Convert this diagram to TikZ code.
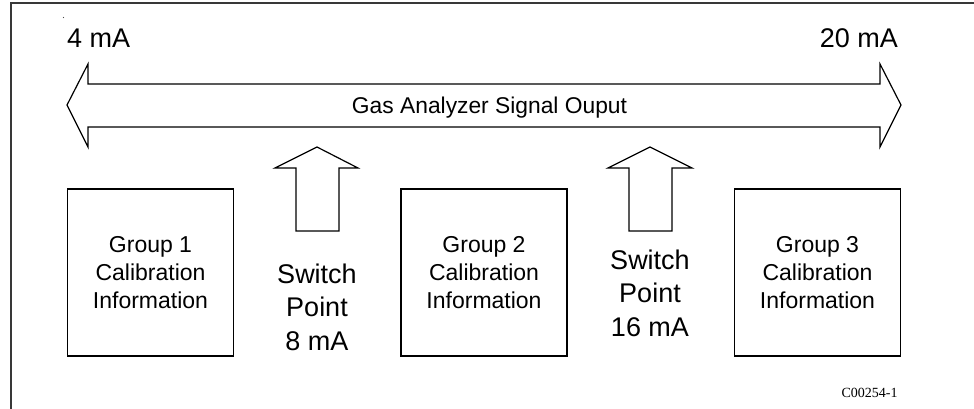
\documentclass[tikz,border=0pt]{standalone}
\usepackage{fontspec}
\setmainfont{Liberation Sans}
\newfontfamily\serifcode{Liberation Serif}
\begin{document}
\begin{tikzpicture}[x=1pt,y=-1pt,
  frameline/.style={draw=black!78,line width=2pt},
  calbox/.style={draw=black,line width=1.4pt,minimum width=166pt,minimum height=167pt,inner sep=0pt,
     align=center,font=\fontsize{23}{28}\selectfont},
  arrowshape/.style={draw=black,line width=1.2pt,line join=miter,fill=white},
  switchtxt/.style={align=center,inner sep=0pt,font=\fontsize{27}{33.5}\selectfont},
  bigtxt/.style={inner sep=0pt,font=\fontsize{27}{32}\selectfont}]
\useasboundingbox (0,0) rectangle (974,408);
\clip (0,0) rectangle (974,408);
% outer frame (open at right and bottom: runs off the picture)
\draw[frameline] (11,412) -- (11,3) -- (980,3);
\fill[black!70] (63.5,17.5) circle (0.6);
% signal double arrow
\draw[arrowshape] (67,105) -- (88,64) -- (88,84) -- (880,84) -- (880,64) -- (901,105)
   -- (880,147) -- (880,127) -- (88,127) -- (88,147) -- cycle;
\node[inner sep=0pt,anchor=base,font=\fontsize{22.8}{27}\selectfont] (sig) at (489.5,113) {Gas Analyzer Signal Ouput};
\node[bigtxt,anchor=base west] (low) at (67,47) {4 mA};
\node[bigtxt,anchor=base east] (high) at (898,47) {20 mA};
% switch point arrows
\draw[arrowshape] (317,147) -- (358,168) -- (339,168) -- (339,231) -- (296,231) -- (296,168) -- (275,168) -- cycle;
\draw[arrowshape] (650,147) -- (692,168) -- (672,168) -- (672,231) -- (629,231) -- (629,168) -- (608,168) -- cycle;
% calibration boxes
\node[calbox] (g1) at (150.5,272.5) {Group 1\\Calibration\\Information};
\node[calbox] (g2) at (484,272.5) {Group 2\\Calibration\\Information};
\node[calbox] (g3) at (817.5,272.5) {Group 3\\Calibration\\Information};
% switch point labels
\node[switchtxt] (sp1) at (317,307) {Switch\\Point\\8 mA};
\node[switchtxt] (sp2) at (650,293) {Switch\\Point\\16 mA};
% figure code
\node[inner sep=0pt,anchor=base,font=\serifcode\fontsize{14}{16}\selectfont] (code) at (869.5,397) {C00254-1};
\end{tikzpicture}
\end{document}
